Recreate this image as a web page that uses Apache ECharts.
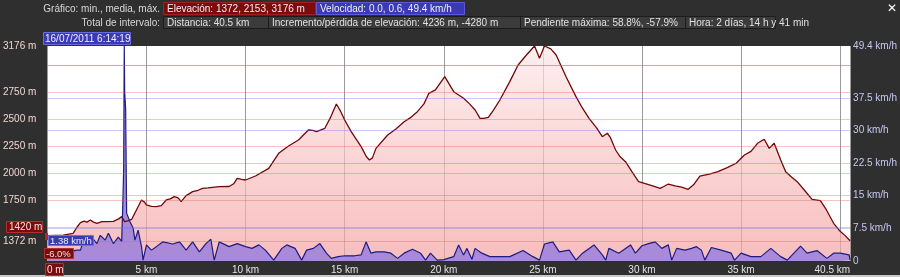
<!DOCTYPE html>
<html><head><meta charset="utf-8">
<script src="https://cdn.jsdelivr.net/npm/echarts@6/dist/echarts.min.js"></script>
<style>html,body{margin:0;padding:0;background:#2f2f2f;overflow:hidden}#c{width:900px;height:277px;}</style>
</head><body><div id="c"></div><script>
// ---- data ----
const elevKm = [0,0.8,1.3,1.5,1.67,1.85,2.0,2.17,2.33,2.5,2.75,3.0,3.33,3.6,3.75,3.9,4.1,4.25,4.5,4.75,4.9,5.0,5.25,5.5,5.75,6.0,6.2,6.4,6.6,6.75,7.0,7.33,7.6,7.83,8.1,8.33,8.67,9.17,9.4,9.58,9.8,10.0,10.5,11.17,11.67,12.17,12.67,13.17,13.4,13.58,14.0,14.3,14.58,14.8,15.0,15.33,15.83,16.1,16.25,16.4,16.58,17.17,17.6,18.0,18.3,18.67,19.0,19.25,19.58,20.05,20.5,21.0,21.3,21.58,21.83,22.0,22.25,22.5,22.83,23.33,23.75,24.17,24.58,24.83,25.08,25.4,25.67,25.9,26.17,26.67,27.0,27.33,27.7,28.0,28.25,28.4,28.67,28.9,29.17,29.5,29.83,30.0,30.5,30.92,31.1,31.33,31.67,32.0,32.33,32.6,32.92,33.4,33.83,34.3,34.75,35.17,35.5,35.83,36.17,36.42,36.67,37.0,37.25,37.5,37.83,38.2,38.58,39.0,39.3,39.67,40.0,40.25,40.5];
const elevM = [1420,1425,1440,1500,1540,1555,1545,1565,1545,1534,1550,1549,1552,1575,1596,1549,1560,1570,1660,1750,1730,1704,1690,1688,1698,1750,1760,1781,1770,1735,1790,1827,1840,1858,1862,1867,1873,1875,1900,1951,1940,1935,1972,2043,2182,2250,2306,2398,2395,2383,2414,2520,2639,2570,2491,2383,2244,2150,2120,2140,2228,2352,2410,2475,2510,2568,2640,2738,2769,2892,2753,2692,2640,2583,2506,2505,2515,2580,2676,2846,3000,3093,3176,3062,3176,3150,3093,3000,2892,2707,2600,2506,2420,2336,2368,2330,2213,2150,2105,2010,1920,1911,1883,1858,1875,1898,1880,1870,1849,1890,1972,1990,2012,2050,2090,2167,2200,2275,2312,2228,2275,2120,2012,1970,1920,1840,1756,1744,1660,1534,1460,1420,1372];
const speedKm = [0,0.3,0.6,0.9,1.2,1.5,1.67,1.83,2.17,2.5,2.67,2.92,3.08,3.33,3.58,3.75,3.8,3.85,3.88,3.9,3.95,3.98,4.0,4.17,4.33,4.42,4.58,4.75,4.83,5.0,5.25,5.5,5.83,6.33,6.67,7.0,7.33,7.67,8.0,8.25,8.42,8.67,9.17,9.58,10.0,10.33,10.67,11.0,11.42,11.83,12.08,12.5,12.83,13.08,13.42,13.75,14.08,14.33,14.67,15.0,15.5,15.83,16.08,16.33,16.58,17.0,17.33,17.67,18.0,18.42,18.83,19.08,19.33,19.67,20.0,20.5,20.75,21.0,21.17,21.42,21.58,21.92,22.33,22.83,23.33,24.0,24.5,24.83,25.08,25.5,25.83,26.33,26.67,27.0,27.58,28.0,28.17,28.33,28.83,29.42,29.67,30.0,30.33,30.67,31.0,31.33,31.5,31.75,32.17,32.5,32.75,33.0,33.17,33.5,34.0,34.5,34.67,35.0,35.5,36.0,36.5,37.0,37.33,38.0,38.33,38.83,39.33,39.67,40.0,40.45,40.5];
const speedKmh = [1.38,1.5,2.0,1.8,2.2,2.5,2.5,4.8,5.9,4.0,5.9,4.8,6.4,4.0,5.5,4.5,12,20.9,49.4,38.9,35,20,11,9,7.5,4.8,7.1,3.3,0.2,3.7,2.5,3.3,4.4,3.9,4.4,2.5,4.4,2.1,4.0,5.0,0.2,4.4,3.3,4.0,3.3,2.9,3.7,2.5,0.2,2.9,3.7,2.9,0.2,2.5,2.9,4.0,1.8,0.6,1.0,1.2,1.2,1.4,4.4,1.8,2.1,2.1,1.8,0.6,1.8,2.7,1.8,0.2,1.8,0.2,0.3,1.0,3.7,1.4,2.9,0.4,2.9,1.8,1.0,1.0,1.0,2.4,1.0,0.2,3.9,4.4,2.1,2.5,0.2,1.8,3.7,1.4,0.2,2.9,1.8,3.7,1.8,3.5,4.0,4.4,2.9,3.7,0.2,2.9,2.5,2.9,3.3,2.5,0.2,3.1,2.5,1.8,0.2,1.8,1.0,1.0,2.9,1.0,0.2,3.4,1.8,2.4,0.6,1.8,1.8,1.4,0.2];
const elevLabelValues = [1372,1750,2000,2250,2500,2750,3176];
const elevGridValues = [1372,1500,1750,2000,2250,2500,2750,3000];
const speedLabelValues = [0,7.5,15,22.5,30,37.5,49.4];
const speedGridValues = [7.5,15,22.5,30,37.5,45];
const headerRow1 = ['Gráfico: min., media, máx.','Elevación: 1372, 2153, 3176 m','Velocidad: 0.0, 0.6, 49.4 km/h'];
const headerRow2 = ['Total de intervalo:','Distancia: 40.5 km','Incremento/pérdida de elevación: 4236 m, -4280 m','Pendiente máxima: 58.8%, -57.9%','Hora: 2 días, 14 h y 41 min'];
const cursorTime = '16/07/2011 6:14:19';
const cursorElev = '1420 m';
const cursorSpeed = '1.38 km/h';
const cursorSlope = '-6.0%';
const cursorDist = '0 m';

const FONT = 'Liberation Sans';
const RED = '#7c0c0c', BLUE = '#3a3ab4', GREYBOX = '#3b3b3b';

function box(x, y, w, h, fill, stroke, text, color, pad, size) {
  return [
    {type:'rect', z:100, shape:{x:x+0.5, y:y+0.5, width:w, height:h}, style:{fill:fill, stroke:stroke, lineWidth:1}, silent:true},
    {type:'text', z:101, x:x+(pad==null?4:pad), y:y+h/2+1, style:{text:text, fill:color, font:(size||10)+'px "'+FONT+'"', verticalAlign:'middle'}, silent:true}
  ];
}
const graphics = [].concat(
  [{type:'text', z:100, x:160, y:9, style:{text:headerRow1[0], fill:'#d8d8d8', font:'10px "'+FONT+'"', align:'right', verticalAlign:'middle'}}],
  box(163, 2, 152, 12, RED, '#a02020', headerRow1[1], '#f0f0f0'),
  box(316, 2, 148, 12, BLUE, '#5a5ad8', headerRow1[2], '#f0f0f0'),
  [{type:'text', z:100, x:160, y:23, style:{text:headerRow2[0], fill:'#d8d8d8', font:'10px "'+FONT+'"', align:'right', verticalAlign:'middle'}}],
  box(163, 16, 105, 12, GREYBOX, '#1c1c1c', headerRow2[1], '#e0e0e0'),
  box(268, 16, 252, 12, GREYBOX, '#1c1c1c', headerRow2[2], '#e0e0e0'),
  box(520, 16, 165, 12, GREYBOX, '#1c1c1c', headerRow2[3], '#e0e0e0'),
  box(685, 16, 90, 12, GREYBOX, '#1c1c1c', headerRow2[4], '#e0e0e0'),
  box(43, 32, 87, 12, BLUE, '#6a6ae0', cursorTime, '#f0f0f0', 2),
  [{type:'text', z:100, x:892, y:9, style:{text:'✕', fill:'#ffffff', font:'bold 12px "DejaVu Sans"', align:'center', verticalAlign:'middle'}}],
  box(6, 221, 36, 11, RED, '#b03030', cursorElev, '#f0e0e0', 3),
  box(48, 235, 45, 10, BLUE, '#7070e0', cursorSpeed, '#f0f0f0', 2, 9.5),
  box(44, 248, 29, 10, RED, '#b03030', cursorSlope, '#f0e0e0', 2, 9.5),
  box(45, 263, 18, 12, RED, '#b03030', cursorDist, '#f0e0e0', 2),
  [{type:'rect', z:99, shape:{x:45, y:233, width:3, height:7}, style:{fill:'#c02020'}}],
  [{type:'rect', z:99, shape:{x:0, y:275, width:900, height:2}, style:{fill:'#c8c8c8'}}]
);

const chart = echarts.init(document.getElementById('c'), null, {renderer:'canvas'});
chart.setOption({
  animation:false,
  backgroundColor:'#2f2f2f',
  textStyle:{fontFamily:FONT},
  grid:{left:45, right:45, top:46, bottom:16, show:true, backgroundColor:'#ffffff', borderWidth:0, containLabel:false},
  xAxis:{type:'value', min:0, max:40.5, interval:5,
    axisLine:{show:false}, axisTick:{show:false},
    splitLine:{show:true, lineStyle:{color:'#9a9a9a', width:1}},
    axisLabel:{color:'#e4e4e4', fontSize:10, margin:4, showMaxLabel:true, alignMaxLabel:'right', hideOverlap:false,
      formatter:function(v){ if (v===0||v===40) return ''; return (Math.round(v*10)/10)+' km'; }}
  },
  yAxis:[
    {type:'value', min:1185, max:3176, position:'left', splitLine:{show:false}, axisLine:{show:false}, axisTick:{show:false},
      axisLabel:{customValues:elevLabelValues, color:'#f0d6d0', fontSize:10, margin:11, formatter:function(v){return v+' m';}}},
    {type:'value', min:0, max:49.4, position:'right', splitLine:{show:false}, axisLine:{show:false}, axisTick:{show:false},
      axisLabel:{customValues:speedLabelValues, color:'#c8c8f4', fontSize:10, margin:3, formatter:function(v){return v===0?'0':v+' km/h';}}}
  ],
  series:[
    {type:'line', name:'Elevación', yAxisIndex:0, symbol:'none', smooth:false,
      data:elevKm.map(function(k,i){return [k, elevM[i]];}),
      lineStyle:{color:'#700808', width:1.3},
      areaStyle:{color:new echarts.graphic.LinearGradient(0,0,0,1,[{offset:0,color:'#fde8e8'},{offset:1,color:'#f4a2a2'}]), origin:'start'},
      markLine:{silent:true, symbol:['none','none'], label:{show:false}, animation:false,
        lineStyle:{color:'rgba(225,90,90,0.35)', type:'solid', width:1},
        data:elevGridValues.map(function(v){return {yAxis:v};})}
    },
    {type:'line', name:'Velocidad', yAxisIndex:1, symbol:'none', smooth:false,
      data:speedKm.map(function(k,i){return [k, speedKmh[i]];}),
      lineStyle:{color:'#1c1c80', width:1.2},
      areaStyle:{color:'#a88ad9', opacity:1, origin:'start'},
      markLine:{silent:true, symbol:['none','none'], label:{show:false}, animation:false,
        lineStyle:{color:'rgba(110,110,230,0.35)', type:'solid', width:1},
        data:speedGridValues.map(function(v){return {yAxis:v};})}
    }
  ],
  graphic:graphics
});
</script></body></html>
